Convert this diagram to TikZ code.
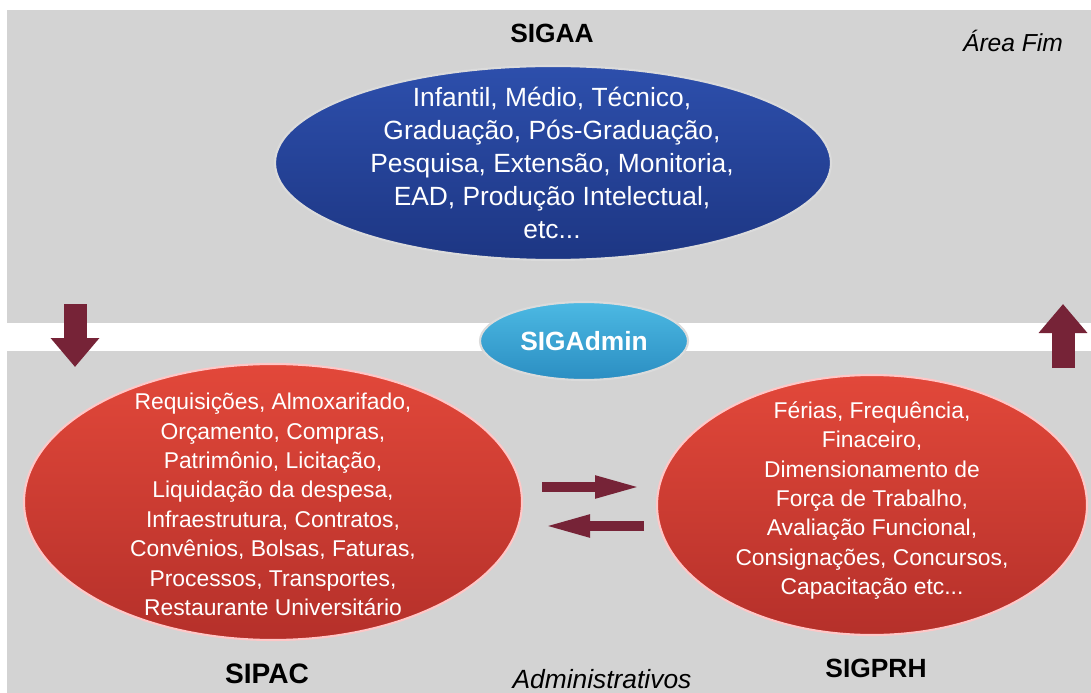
\documentclass[tikz,border=0pt]{standalone}
\usepackage{fontspec}
\setmainfont{Liberation Sans}
\usetikzlibrary{positioning,shapes.geometric,arrows.meta}
\definecolor{panelgray}{RGB}{211,211,211}
\definecolor{sigaablue}{HTML}{2D4FAC}
\definecolor{sigaadark}{HTML}{1D3683}
\definecolor{adminblue}{HTML}{4CB9E3}
\definecolor{admindark}{HTML}{2B8EC2}
\definecolor{modred}{HTML}{E2483A}
\definecolor{moddark}{HTML}{B5302A}
\definecolor{flowred}{RGB}{118,35,55}

\begin{document}
\begin{tikzpicture}[module/.style={ellipse, inner sep=0pt, draw=white!72!gray, line width=1.2pt}, bluemod/.style={module, top color=sigaablue, bottom color=sigaadark}, adminmod/.style={module, top color=adminblue, bottom color=admindark}, redmod/.style={module, draw=white!78!red, top color=modred, bottom color=moddark}, listtext/.style={text=white, align=center, font=\fontsize{13}{16.7}\selectfont}, syslabel/.style={font=\fontsize{15}{18}\selectfont\bfseries}, arealabel/.style={font=\fontsize{14}{17}\selectfont\itshape}, flowarrow/.style={-{Triangle[width=0.4cm,length=0.96cm]}, draw=flowred, line width=0.2cm}, bigarrow/.style={-{Triangle[width=0.94cm,length=0.58cm]}, draw=flowred, line width=0.46cm}]
\useasboundingbox (0,0) rectangle (21.82,-13.86);
% faixas de fundo
\fill[panelgray] (0.14,-0.20) rectangle (21.82,-6.46);
\fill[panelgray] (0.14,-7.02) rectangle (21.82,-13.86);
% area fim
\node[bluemod, minimum width=11.12cm, minimum height=3.88cm] (sigaa) at (11.06,-3.26) {};
\node[listtext, font=\fontsize{15}{18.7}\selectfont] (sigaa-txt) at (11.04,-3.26) {Infantil, Médio, Técnico,\\Graduação, Pós-Graduação,\\Pesquisa, Extensão, Monitoria,\\EAD, Produção Intelectual,\\etc...};
\node[syslabel] (sigaa-lbl) at (11.04,-0.66) {SIGAA};
\node[arealabel] (fim) at (20.26,-0.82) {Área Fim};
% area meio
\node[adminmod, minimum width=4.16cm, minimum height=1.56cm] (admin) at (11.68,-6.82) {};
\node[syslabel, text=white] (admin-txt) at (admin) {SIGAdmin};
\node[redmod, minimum width=9.96cm, minimum height=5.52cm] (sipac) at (5.46,-10.04) {};
\node[listtext] (sipac-txt) at (5.46,-10.09) {Requisições, Almoxarifado,\\Orçamento, Compras,\\Patrimônio, Licitação,\\Liquidação da despesa,\\Infraestrutura, Contratos,\\Convênios, Bolsas, Faturas,\\Processos, Transportes,\\Restaurante Universitário};
\node[redmod, minimum width=8.6cm, minimum height=5.2cm] (sigprh) at (17.44,-10.1) {};
\node[listtext] (sigprh-txt) at (17.44,-10.01) {Férias, Frequência,\\Finaceiro,\\Dimensionamento de\\Força de Trabalho,\\Avaliação Funcional,\\Consignações, Concursos,\\Capacitação etc...};
\node[syslabel, font=\fontsize{16}{19}\selectfont\bfseries] (sipac-lbl) at (5.34,-13.48) {SIPAC};
\node[syslabel] (sigprh-lbl) at (17.52,-13.36) {SIGPRH};
\node[arealabel, font=\fontsize{15}{18}\selectfont\itshape] (adm) at (12.04,-13.58) {Administrativos};
% setas
\coordinate (down-a) at (1.50,-6.08);
\coordinate (down-b) at (1.50,-7.34);
\coordinate (up-a) at (21.26,-7.36);
\coordinate (up-b) at (21.26,-6.08);
\draw[bigarrow] (down-a) -- (down-b);
\draw[bigarrow] (up-a) -- (up-b);
\coordinate (go-a) at (10.84,-9.74);
\coordinate (go-b) at (12.86,-9.74);
\coordinate (back-a) at (12.88,-10.52);
\coordinate (back-b) at (10.84,-10.52);
\draw[flowarrow] (go-a) -- (go-b);
\draw[flowarrow] (back-a) -- (back-b);
\end{tikzpicture}
\end{document}
